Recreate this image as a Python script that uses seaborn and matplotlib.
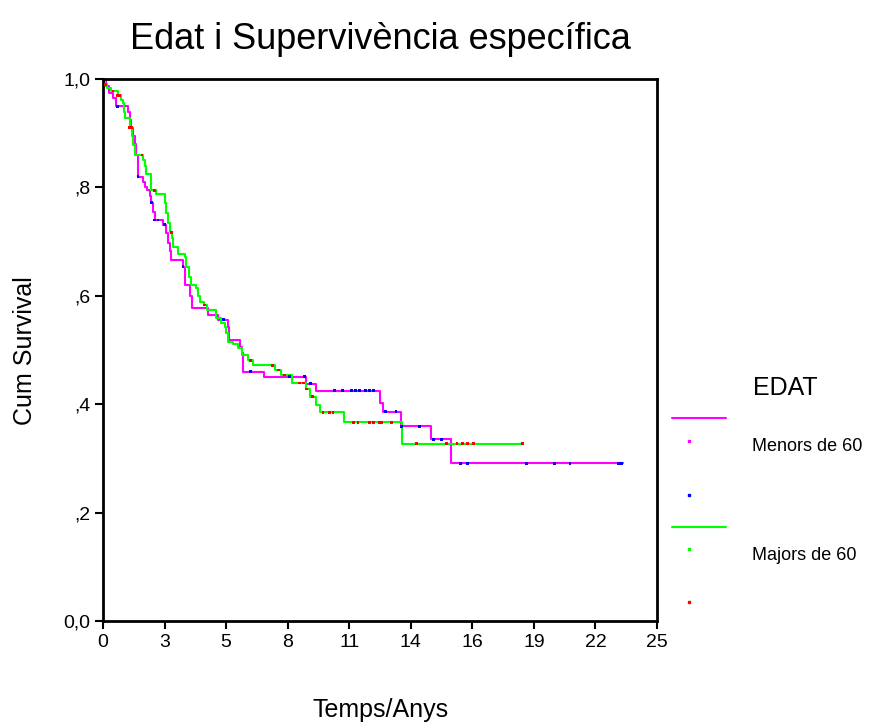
import numpy as np
import pandas as pd
import matplotlib
matplotlib.use("Agg")
import matplotlib.pyplot as plt
from matplotlib.lines import Line2D
import seaborn as sns

# Kaplan-Meier steps (time in years, survival after the drop)
menors_t = [0.12, 0.25, 0.43, 0.60, 1.11, 1.20, 1.28, 1.34, 1.43, 1.50, 1.58, 1.80,
            1.88, 1.97, 2.10, 2.18, 2.24, 2.33, 2.71, 2.86, 2.93, 3.01, 3.08, 3.61,
            3.69, 3.93, 4.00, 4.74, 5.19, 5.64, 5.70, 6.17, 6.25, 6.32, 7.25, 9.14,
            9.60, 12.49, 12.64, 13.47, 14.78, 15.69]
menors_s = [0.987, 0.975, 0.965, 0.950, 0.940, 0.925, 0.910, 0.895, 0.880, 0.860, 0.820, 0.810,
            0.800, 0.795, 0.785, 0.772, 0.755, 0.740, 0.731, 0.716, 0.698, 0.682, 0.667, 0.654,
            0.620, 0.600, 0.577, 0.565, 0.556, 0.543, 0.519, 0.506, 0.494, 0.460, 0.451, 0.438,
            0.425, 0.402, 0.386, 0.359, 0.335, 0.291]
menors_end = 23.47

majors_t = [0.07, 0.18, 0.37, 0.66, 0.79, 0.90, 0.95, 1.00, 1.20, 1.29, 1.35, 1.43,
            1.79, 1.88, 1.96, 2.18, 2.41, 2.78, 2.86, 2.93, 3.01, 3.11, 3.16, 3.38,
            3.69, 3.76, 3.88, 3.99, 4.21, 4.29, 4.36, 4.54, 4.67, 5.12, 5.34, 5.49,
            5.57, 5.64, 5.87, 6.09, 6.25, 6.54, 6.77, 7.75, 8.05, 8.52, 9.15, 9.33,
            9.60, 9.81, 10.87, 13.49]
majors_s = [0.990, 0.984, 0.978, 0.970, 0.962, 0.955, 0.940, 0.928, 0.910, 0.895, 0.879, 0.860,
            0.850, 0.840, 0.825, 0.795, 0.787, 0.772, 0.753, 0.735, 0.717, 0.706, 0.690, 0.678,
            0.671, 0.654, 0.635, 0.620, 0.614, 0.600, 0.589, 0.583, 0.574, 0.560, 0.549, 0.543,
            0.531, 0.515, 0.512, 0.503, 0.490, 0.481, 0.472, 0.463, 0.454, 0.439, 0.428, 0.414,
            0.399, 0.385, 0.367, 0.327]
majors_end = 18.95

# censored cases
menors_cens_t = [0.65, 1.58, 2.18, 2.33, 2.48, 2.78, 3.61, 5.42, 6.65, 8.43, 9.10, 9.37,
                 10.46, 10.82, 11.23, 11.41, 11.59, 11.86, 12.04, 12.22, 12.76, 13.22, 13.47,
                 14.30, 14.90, 15.28, 16.14, 16.44, 19.12, 20.37, 21.07, 23.26, 23.41]
majors_cens_t = [0.12, 0.45, 0.67, 0.75, 1.20, 1.28, 1.76, 2.33, 3.08, 4.59, 6.65, 7.65,
                 7.93, 8.20, 8.88, 9.06, 9.18, 9.45, 9.93, 10.23, 10.38, 11.32, 11.51, 12.04,
                 12.22, 12.49, 12.57, 13.02, 14.15, 15.50, 15.98, 16.23, 16.45, 16.71, 18.94]

groups = ["Menors de 60", "Majors de 60"]
colors = {"Menors de 60": "#FF00FF", "Majors de 60": "#00FF00"}
cens_colors = {"Menors de 60": "#0000FF", "Majors de 60": "#FF0000"}

x_ticks = np.linspace(0, 25, 10)
x_labels = ["0", "3", "5", "8", "11", "14", "16", "19", "22", "25"]
y_ticks = [0.0, 0.2, 0.4, 0.6, 0.8, 1.0]
y_labels = ["0,0", ",2", ",4", ",6", ",8", "1,0"]


def steps(times, surv, end):
    t = [0.0] + list(times) + [end]
    s = [1.0] + list(surv) + [surv[-1]]
    return t, s


def surv_at(times, surv, x):
    s = 1.0
    for ti, si in zip(times, surv):
        if ti <= x:
            s = si
    return s


rows = []
cens = []
for g, tt, ss, end, ct in [
    ("Menors de 60", menors_t, menors_s, menors_end, menors_cens_t),
    ("Majors de 60", majors_t, majors_s, majors_end, majors_cens_t),
]:
    t, s = steps(tt, ss, end)
    for a, b in zip(t, s):
        rows.append({"Temps": a, "Surv": b, "EDAT": g})
    for c in ct:
        cens.append({"Temps": c, "Surv": surv_at(tt, ss, c), "EDAT": g})

df = pd.DataFrame(rows)
df_cens = pd.DataFrame(cens)

sns.set_style("white")
plt.rcParams["font.family"] = ["Liberation Sans", "DejaVu Sans"]
plt.rcParams["text.color"] = "black"

fig = plt.figure(figsize=(8.89, 7.25), dpi=100)
ax = fig.add_axes([0.1159, 0.1434, 0.6231, 0.7476])

sns.lineplot(
    data=df, x="Temps", y="Surv", hue="EDAT", hue_order=groups,
    palette=colors, drawstyle="steps-post", estimator=None,
    sort=False, linewidth=1.5, legend=False, ax=ax
)
sns.scatterplot(
    data=df_cens, x="Temps", y="Surv", hue="EDAT", hue_order=groups,
    palette=cens_colors, marker="s", s=4, linewidth=0, legend=False,
    ax=ax, zorder=3
)

ax.set_xlim(0, 25)
ax.set_ylim(0, 1)
ax.set_xticks(x_ticks)
ax.set_xticklabels(x_labels)
ax.set_yticks(y_ticks)
ax.set_yticklabels(y_labels)
ax.tick_params(direction="out", length=6, width=1.5, labelsize=14, colors="black",
               left=True, bottom=True, pad=3)
for sp in ax.spines.values():
    sp.set_visible(True)
    sp.set_color("black")
    sp.set_linewidth(2)
ax.set_xlabel("")
ax.set_ylabel("")

fig.text(0.4275, 0.945, "Edat i Supervivència específica", fontsize=26,
         ha="center", va="center")
fig.text(0.428, 0.021, "Temps/Anys", fontsize=18, ha="center", va="center")
fig.text(0.028, 0.517, "Cum Survival", fontsize=18, rotation=90,
         ha="center", va="center")

# legend, SPSS style
W, H = 889, 725
fig.text(785 / W, 1 - 388 / H, "EDAT", fontsize=18, ha="center", va="center")
fig.add_artist(Line2D([672 / W, 726 / W], [1 - 418 / H] * 2, color=colors["Menors de 60"],
                      lw=1.5, transform=fig.transFigure))
fig.add_artist(Line2D([689 / W], [1 - 441 / H], color=colors["Menors de 60"], marker="s",
                      markersize=1.5, lw=0, transform=fig.transFigure))
fig.add_artist(Line2D([689 / W], [1 - 495 / H], color=cens_colors["Menors de 60"], marker="s",
                      markersize=1.5, lw=0, transform=fig.transFigure))
fig.add_artist(Line2D([672 / W, 726 / W], [1 - 527 / H] * 2, color=colors["Majors de 60"],
                      lw=1.5, transform=fig.transFigure))
fig.add_artist(Line2D([689 / W], [1 - 549 / H], color=colors["Majors de 60"], marker="s",
                      markersize=1.5, lw=0, transform=fig.transFigure))
fig.add_artist(Line2D([689 / W], [1 - 602 / H], color=cens_colors["Majors de 60"], marker="s",
                      markersize=1.5, lw=0, transform=fig.transFigure))
fig.text(752 / W, 1 - 446 / H, "Menors de 60", fontsize=13, ha="left", va="center")
fig.text(752 / W, 1 - 555 / H, "Majors de 60", fontsize=13, ha="left", va="center")

fig.savefig("out.png", dpi=100)
